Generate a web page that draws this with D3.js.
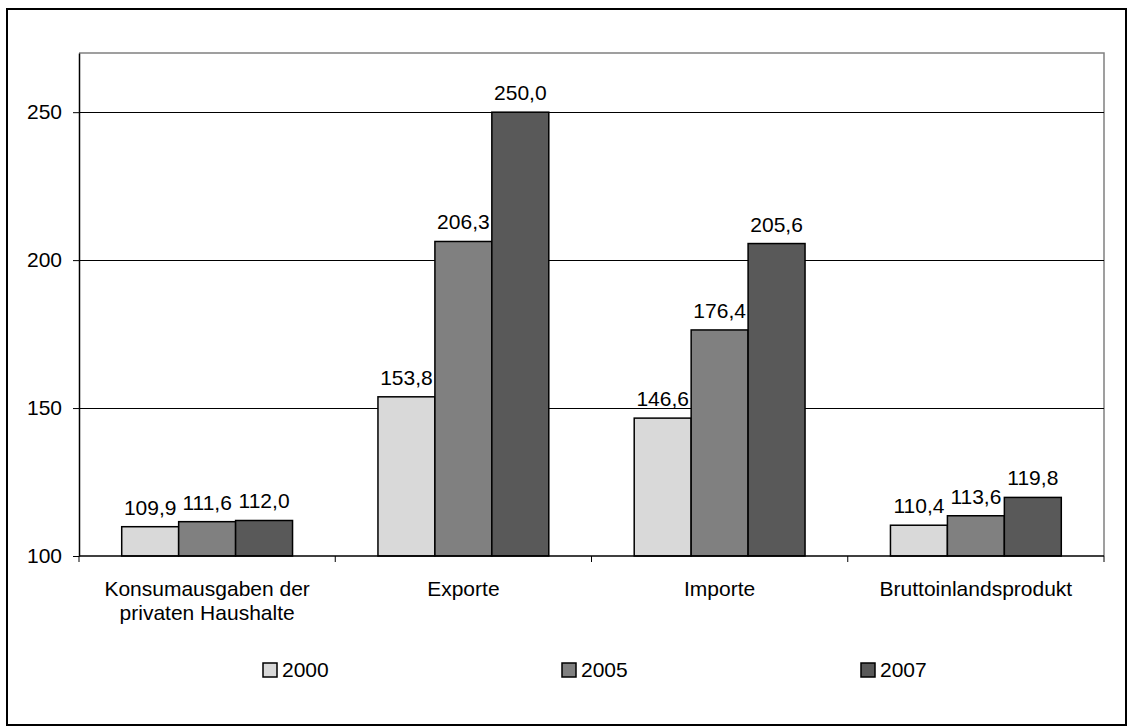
<!DOCTYPE html>
<html>
<head>
<meta charset="utf-8">
<script src="https://cdn.jsdelivr.net/npm/d3@7"></script>
<style>
  body { margin: 0; background: #fff; }
  svg text { font-family: "Liberation Sans", Arial, sans-serif; fill: #000; }
</style>
</head>
<body>
<svg id="chart" width="1128" height="726"></svg>
<script>
// data
const categories = [
  ["Konsumausgaben der", "privaten Haushalte"],
  ["Exporte"],
  ["Importe"],
  ["Bruttoinlandsprodukt"],
];
const years = ["2000", "2005", "2007"];
const values2000 = [109.9, 153.8, 146.6, 110.4];
const values2005 = [111.6, 206.3, 176.4, 113.6];
const values2007 = [112.0, 250.0, 205.6, 119.8];
const yTicks = [100, 150, 200, 250];
const colors = ["#d9d9d9", "#808080", "#595959"];

const seriesValues = [values2000, values2005, values2007];
const catKeys = categories.map((c) => c.join(" "));

const svg = d3.select("#chart");
const plot = { left: 79, top: 53, right: 1104, bottom: 556 };
const fontSize = 21;

// outer frame
svg.append("rect")
  .attr("x", 7).attr("y", 9)
  .attr("width", 1119).attr("height", 716)
  .attr("fill", "none")
  .attr("stroke", "#000")
  .attr("stroke-width", 2);

const x0 = d3.scaleBand()
  .domain(catKeys)
  .range([plot.left, plot.right])
  .padding(0);

const x1 = d3.scaleBand()
  .domain(years)
  .range([0, x0.bandwidth()])
  .paddingInner(0)
  .paddingOuter(0.75);

const y = d3.scaleLinear()
  .domain([100, 270])
  .range([plot.bottom, plot.top]);

// plot frame (top and right)
svg.append("path")
  .attr("d", `M${plot.left},${plot.top}H${plot.right}V${plot.bottom}`)
  .attr("fill", "none")
  .attr("stroke", "#808080")
  .attr("stroke-width", 1.5);

// gridlines
svg.append("g")
  .selectAll("line")
  .data(yTicks.filter((t) => t > 100))
  .enter()
  .append("line")
  .attr("x1", plot.left).attr("x2", plot.right)
  .attr("y1", (d) => Math.round(y(d)) + 0.5)
  .attr("y2", (d) => Math.round(y(d)) + 0.5)
  .attr("stroke", "#000")
  .attr("stroke-width", 1.2);

// bars
const groups = svg.append("g")
  .selectAll("g")
  .data(years)
  .enter()
  .append("g")
  .attr("fill", (d, i) => colors[i]);

groups.selectAll("rect")
  .data((yr, si) => seriesValues[si].map((v, ci) => ({ yr, v, cat: catKeys[ci] })))
  .enter()
  .append("rect")
  .attr("x", (d) => x0(d.cat) + x1(d.yr))
  .attr("y", (d) => y(d.v))
  .attr("width", x1.bandwidth())
  .attr("height", (d) => y(100) - y(d.v))
  .attr("stroke", "#000")
  .attr("stroke-width", 1.5);

// value labels
groups.selectAll("text")
  .data((yr, si) => seriesValues[si].map((v, ci) => ({ yr, v, cat: catKeys[ci] })))
  .enter()
  .append("text")
  .attr("x", (d) => x0(d.cat) + x1(d.yr) + x1.bandwidth() / 2)
  .attr("y", (d) => y(d.v) - 12)
  .attr("text-anchor", "middle")
  .style("font-size", fontSize + "px")
  .text((d) => d3.format(".1f")(d.v).replace(".", ","));

// y axis
const yAxis = svg.append("g")
  .attr("transform", `translate(${plot.left},0)`)
  .call(d3.axisLeft(y).tickValues(yTicks).tickSize(6).tickSizeOuter(0).tickPadding(11));
yAxis.select(".domain").attr("stroke", "#000").attr("stroke-width", 1.5);
yAxis.selectAll(".tick line").attr("stroke", "#000");
yAxis.selectAll("text")
  .style("font-size", fontSize + "px")
  .style("font-family", '"Liberation Sans", Arial, sans-serif');

// x axis with ticks at category boundaries
svg.append("line")
  .attr("x1", plot.left).attr("x2", plot.right)
  .attr("y1", plot.bottom).attr("y2", plot.bottom)
  .attr("stroke", "#000")
  .attr("stroke-width", 1.5);

svg.append("g")
  .selectAll("line")
  .data(catKeys.concat(["end"]))
  .enter()
  .append("line")
  .attr("x1", (d) => (d === "end" ? plot.right : x0(d)))
  .attr("x2", (d) => (d === "end" ? plot.right : x0(d)))
  .attr("y1", plot.bottom)
  .attr("y2", plot.bottom + 6)
  .attr("stroke", "#000");

const catLabels = svg.append("g")
  .selectAll("text")
  .data(categories)
  .enter()
  .append("text")
  .attr("text-anchor", "middle")
  .attr("x", (d, i) => x0(catKeys[i]) + x0.bandwidth() / 2)
  .attr("y", 596)
  .style("font-size", fontSize + "px");

catLabels.selectAll("tspan")
  .data((d) => d)
  .enter()
  .append("tspan")
  .attr("x", function () { return d3.select(this.parentNode).attr("x"); })
  .attr("dy", (d, i) => (i === 0 ? 0 : 24))
  .text((d) => d);

// legend
const legendX = [263, 562, 861];
const legend = svg.append("g")
  .selectAll("g")
  .data(years)
  .enter()
  .append("g")
  .attr("transform", (d, i) => `translate(${legendX[i]},663)`);

legend.append("rect")
  .attr("width", 14).attr("height", 14)
  .attr("fill", (d, i) => colors[i])
  .attr("stroke", "#000")
  .attr("stroke-width", 1.5);

legend.append("text")
  .attr("x", 19)
  .attr("y", 14)
  .style("font-size", fontSize + "px")
  .text((d) => d);
</script>
</body>
</html>
